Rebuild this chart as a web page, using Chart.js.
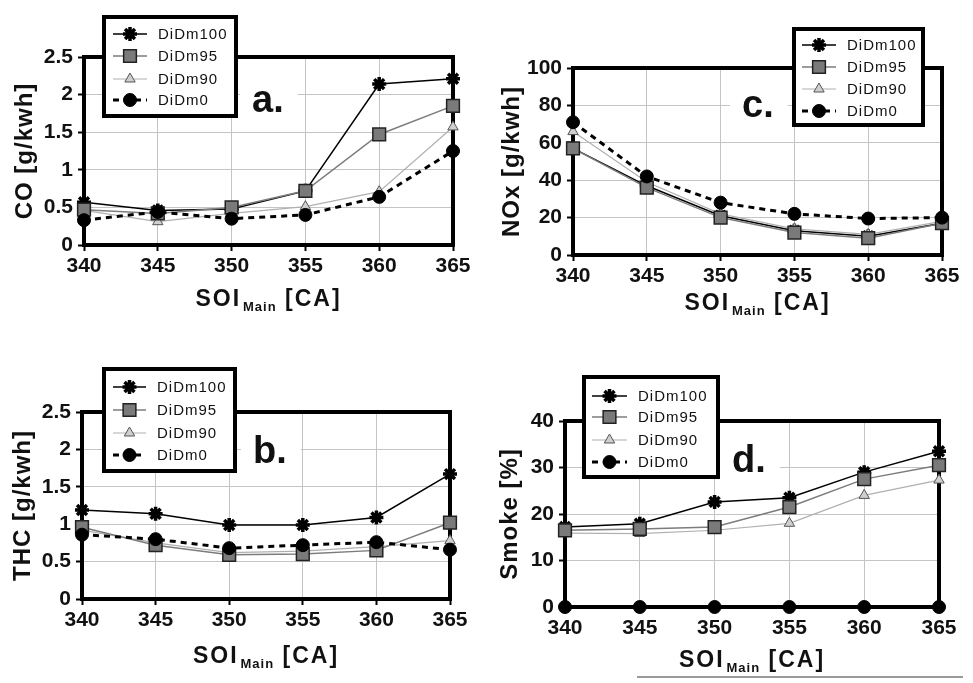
<!DOCTYPE html>
<html><head><meta charset="utf-8">
<script src="https://cdn.jsdelivr.net/npm/chart.js@4/dist/chart.umd.min.js"></script>
<style>
html,body{margin:0;padding:0;background:#fff;width:973px;height:683px;overflow:hidden}
canvas{position:absolute;left:0;top:0}
#rule{position:absolute;left:637px;top:676px;width:326px;height:2px;background:#9a9a9a}
</style></head><body>
<canvas id="ca" width="973" height="683"></canvas>
<canvas id="cc" width="973" height="683"></canvas>
<canvas id="cb" width="973" height="683"></canvas>
<canvas id="cd" width="973" height="683"></canvas>
<div id="rule"></div>
<script>
// ---------- data ----------
const soiMain = [340, 345, 350, 355, 360, 365];
const seriesNames = ['DiDm100', 'DiDm95', 'DiDm90', 'DiDm0'];

const coDiDm100 = [0.57, 0.46, 0.48, 0.72, 2.14, 2.21];
const coDiDm95  = [0.47, 0.42, 0.50, 0.72, 1.47, 1.85];
const coDiDm90  = [0.46, 0.31, 0.42, 0.51, 0.71, 1.57];
const coDiDm0   = [0.33, 0.44, 0.35, 0.40, 0.64, 1.25];

const noxDiDm100 = [57, 37, 21, 13, 10, 17];
const noxDiDm95  = [57, 36, 20, 12, 9, 17];
const noxDiDm90  = [66, 39, 22, 14, 11, 18];
const noxDiDm0   = [71, 42, 28, 22, 19.5, 20];

const thcDiDm100 = [1.19, 1.14, 0.99, 0.99, 1.09, 1.67];
const thcDiDm95  = [0.96, 0.72, 0.59, 0.60, 0.65, 1.02];
const thcDiDm90  = [0.92, 0.75, 0.62, 0.64, 0.70, 0.78];
const thcDiDm0   = [0.86, 0.80, 0.68, 0.72, 0.76, 0.66];

const smokeDiDm100 = [17.2, 17.9, 22.6, 23.5, 29.0, 33.5];
const smokeDiDm95  = [16.5, 16.8, 17.2, 21.5, 27.5, 30.5];
const smokeDiDm90  = [15.9, 15.8, 16.5, 18.0, 24.0, 27.3];
const smokeDiDm0   = [0, 0, 0, 0, 0, 0];

const coTicks = [0, 0.5, 1, 1.5, 2, 2.5];
const noxTicks = [0, 20, 40, 60, 80, 100];
const thcTicks = [0, 0.5, 1, 1.5, 2, 2.5];
const smokeTicks = [0, 10, 20, 30, 40];

// ---------- styles ----------
const FONT = '"Liberation Sans", Arial, sans-serif';
Chart.defaults.font.family = FONT;

const seriesStyles = [
  {borderColor:'#000', borderWidth:1.5, pointStyle:'star', pointRadius:7, pointBorderWidth:3.5, pointBorderColor:'#000', pointBackgroundColor:'#000', order:3},
  {borderColor:'#7c7c7c', borderWidth:1.5, pointStyle:'rect', pointRadius:9, pointBackgroundColor:'#7a7a7a', pointBorderColor:'#222', pointBorderWidth:1.5, order:1},
  {borderColor:'#b0b0b0', borderWidth:1.2, pointStyle:'triangle', pointRadius:6, pointBackgroundColor:'#cfcfcf', pointBorderColor:'#555', pointBorderWidth:1, order:2},
  {borderColor:'#000', borderWidth:3, borderDash:[6,5], pointStyle:'circle', pointRadius:6.5, pointBackgroundColor:'#000', pointBorderColor:'#000', pointBorderWidth:1, order:0}
];

function drawMarker(ctx, st, x, y) {
  ctx.save();
  ctx.setLineDash([]);
  ctx.fillStyle = st.pointBackgroundColor;
  ctx.strokeStyle = st.pointBorderColor;
  ctx.lineWidth = st.pointBorderWidth;
  const r = st.pointRadius;
  ctx.beginPath();
  if (st.pointStyle === 'circle') {
    ctx.arc(x, y, r, 0, Math.PI * 2); ctx.fill(); ctx.stroke();
  } else if (st.pointStyle === 'rect') {
    const s = r * Math.SQRT1_2;
    ctx.rect(x - s, y - s, 2 * s, 2 * s); ctx.fill(); ctx.stroke();
  } else if (st.pointStyle === 'triangle') {
    let a = 0;
    ctx.moveTo(x + Math.sin(a) * r, y - Math.cos(a) * r);
    a += 2 * Math.PI / 3; ctx.lineTo(x + Math.sin(a) * r, y - Math.cos(a) * r);
    a += 2 * Math.PI / 3; ctx.lineTo(x + Math.sin(a) * r, y - Math.cos(a) * r);
    ctx.closePath(); ctx.fill(); ctx.stroke();
  } else if (st.pointStyle === 'star') {
    ctx.moveTo(x, y - r); ctx.lineTo(x, y + r);
    ctx.moveTo(x - r, y); ctx.lineTo(x + r, y);
    const d = r * Math.SQRT1_2;
    ctx.moveTo(x - d, y - d); ctx.lineTo(x + d, y + d);
    ctx.moveTo(x - d, y + d); ctx.lineTo(x + d, y - d);
    ctx.stroke();
  }
  ctx.restore();
}

const decorPlugin = {
  id: 'decor',
  beforeDatasetsDraw(chart, args, o) {
    const ctx = chart.ctx, a = chart.chartArea;
    ctx.save();
    ctx.strokeStyle = '#000'; ctx.lineWidth = 4;
    ctx.strokeRect(a.left, a.top, a.right - a.left, a.bottom - a.top);
    ctx.restore();
  },
  afterDraw(chart, args, o) {
    const ctx = chart.ctx, a = chart.chartArea;
    ctx.save();
    // y title
    ctx.fillStyle = '#111';
    ctx.font = 'bold 24px ' + FONT;
    ctx.letterSpacing = '1px';
    ctx.textAlign = 'center'; ctx.textBaseline = 'middle';
    ctx.save();
    ctx.translate(o.yTitleX, (a.top + a.bottom) / 2);
    ctx.rotate(-Math.PI / 2);
    ctx.fillText(o.yTitle, 0, 0);
    ctx.restore();
    // x title with subscript
    ctx.textAlign = 'left'; ctx.textBaseline = 'alphabetic';
    const big = 'bold 23px ' + FONT, small = 'bold 13px ' + FONT;
    ctx.font = big; ctx.letterSpacing = '2px';
    const w1 = ctx.measureText('SOI').width;
    const w3 = ctx.measureText(' [CA]').width;
    ctx.font = small; ctx.letterSpacing = '1px';
    const w2 = ctx.measureText('Main').width;
    let x = (a.left + a.right) / 2 - (w1 + w2 + w3 + 2) / 2;
    ctx.font = big; ctx.letterSpacing = '2px';
    ctx.fillText('SOI', x, o.xBase); x += w1 + 2;
    ctx.font = small; ctx.letterSpacing = '1px';
    ctx.fillText('Main', x, o.xBase + 5); x += w2;
    ctx.font = big; ctx.letterSpacing = '2px';
    ctx.fillText(' [CA]', x, o.xBase);
    // panel letter
    ctx.font = 'bold 38px ' + FONT; ctx.letterSpacing = '0px';
    const lw = ctx.measureText(o.letter).width;
    ctx.fillStyle = '#fff';
    ctx.fillRect(o.letterPos[0] - 12, o.letterPos[1] - 34, lw + 26, 42);
    ctx.fillStyle = '#111';
    ctx.fillText(o.letter, o.letterPos[0], o.letterPos[1]);
    // legend
    const L = o.legend;
    ctx.fillStyle = '#fff';
    ctx.fillRect(L.x, L.y, L.w, L.h);
    ctx.strokeStyle = '#000'; ctx.lineWidth = 4;
    ctx.strokeRect(L.x + 2, L.y + 2, L.w - 4, L.h - 4);
    ctx.font = '15px ' + FONT; ctx.letterSpacing = '1px';
    ctx.textBaseline = 'middle';
    seriesNames.forEach((name, i) => {
      const st = seriesStyles[i], y = L.rows[i];
      ctx.save();
      ctx.strokeStyle = st.borderColor; ctx.lineWidth = st.borderWidth;
      ctx.setLineDash(st.borderDash || []);
      ctx.beginPath(); ctx.moveTo(L.lx[0], y); ctx.lineTo(L.lx[1], y); ctx.stroke();
      ctx.restore();
      drawMarker(ctx, st, (L.lx[0] + L.lx[1]) / 2, y);
      ctx.fillStyle = '#111';
      ctx.fillText(name, L.tx, y + 1);
    });
    ctx.restore();
  }
};

const panels = [
  {id:'ca', area:{l:84,t:57,r:453,b:245}, ticks:coTicks, series:[coDiDm100, coDiDm95, coDiDm90, coDiDm0],
   decor:{yTitle:'CO [g/kwh]', yTitleX:25, xBase:306, letter:'a.', letterPos:[252,112],
          legend:{x:102,y:15,w:136,h:103, rows:[34,56,79,100], lx:[113,147], tx:158}}},
  {id:'cc', area:{l:573,t:68,r:942,b:255}, ticks:noxTicks, series:[noxDiDm100, noxDiDm95, noxDiDm90, noxDiDm0],
   decor:{yTitle:'NOx [g/kwh]', yTitleX:512, xBase:310, letter:'c.', letterPos:[742,117],
          legend:{x:792,y:27,w:133,h:100, rows:[45,67,89,111], lx:[802,836], tx:847}}},
  {id:'cb', area:{l:82,t:412,r:450,b:599}, ticks:thcTicks, series:[thcDiDm100, thcDiDm95, thcDiDm90, thcDiDm0],
   decor:{yTitle:'THC [g/kwh]', yTitleX:23, xBase:663, letter:'b.', letterPos:[253,463],
          legend:{x:102,y:367,w:135,h:106, rows:[387,410,433,455], lx:[113,146], tx:157}}},
  {id:'cd', area:{l:565,t:421,r:939,b:607}, ticks:smokeTicks, series:[smokeDiDm100, smokeDiDm95, smokeDiDm90, smokeDiDm0],
   decor:{yTitle:'Smoke [%]', yTitleX:510, xBase:667, letter:'d.', letterPos:[732,472],
          legend:{x:582,y:375,w:138,h:104, rows:[396,417,440,462], lx:[592,627], tx:638}}}
];

const Y_W = 60, X_H = 50, W = 973, H = 683;

panels.forEach(p => {
  const tickFont = {family: FONT, size: 21, weight: 'bold'};
  new Chart(document.getElementById(p.id), {
    type: 'line',
    data: {
      labels: soiMain.map(String),
      datasets: p.series.map((vals, i) => Object.assign({label: seriesNames[i], data: vals, clip: false, tension: 0}, seriesStyles[i]))
    },
    options: {
      responsive: false, animation: false, devicePixelRatio: 1,
      layout: {padding: {left: p.area.l - Y_W, top: p.area.t, right: W - p.area.r, bottom: H - p.area.b - X_H}},
      plugins: {legend: {display: false}, tooltip: {enabled: false}, decor: p.decor},
      events: [],
      scales: {
        x: {
          offset: false,
          afterFit(s) { s.height = X_H; },
          grid: {color: '#c4c4c4', lineWidth: 1, tickLength: 6, tickColor: '#000', tickWidth: 2},
          border: {display: false},
          ticks: {font: tickFont, color: '#111', padding: 3, maxRotation: 0, autoSkip: false}
        },
        y: {
          min: p.ticks[0], max: p.ticks[p.ticks.length - 1],
          afterFit(s) { s.width = Y_W; },
          afterBuildTicks(s) { s.ticks = p.ticks.map(v => ({value: v})); },
          grid: {color: '#c4c4c4', lineWidth: 1, tickLength: 6, tickColor: '#000', tickWidth: 2},
          border: {display: false},
          ticks: {font: tickFont, color: '#111', padding: 5, callback: v => String(v)}
        }
      }
    },
    plugins: [decorPlugin]
  });
});
</script>
</body></html>
